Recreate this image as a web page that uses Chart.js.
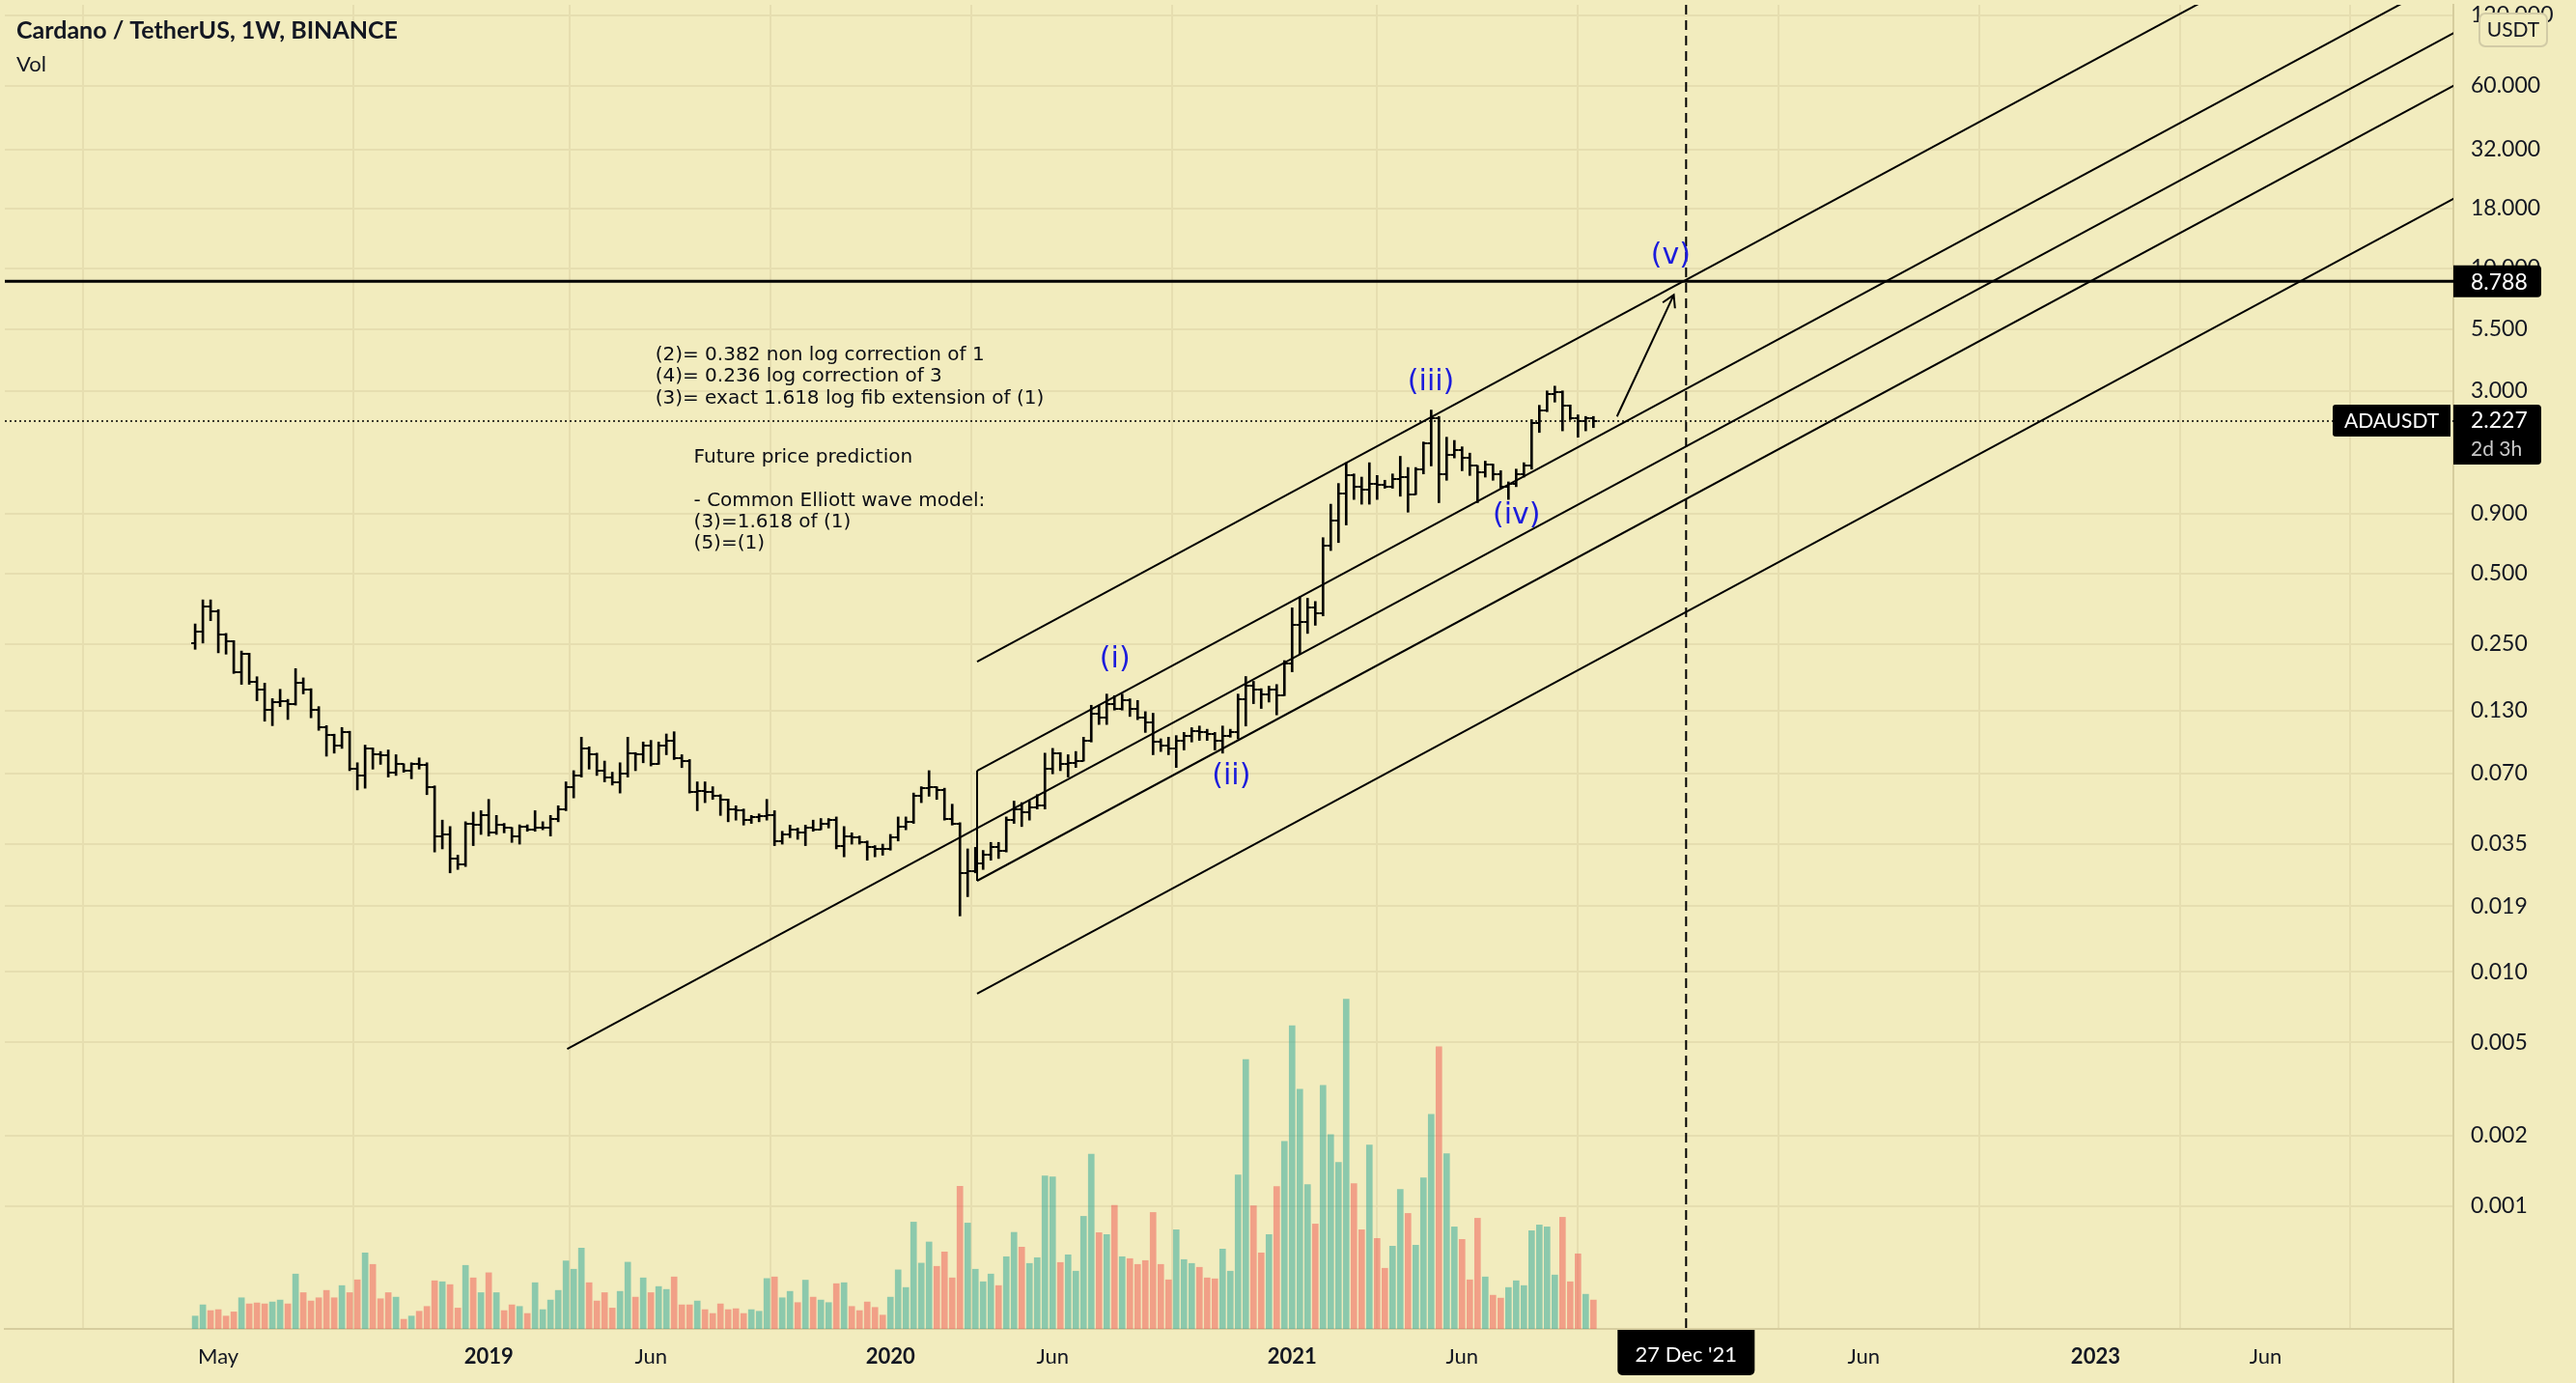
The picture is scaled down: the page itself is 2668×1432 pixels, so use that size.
<!DOCTYPE html>
<html><head><meta charset="utf-8">
<script src="https://cdn.jsdelivr.net/npm/chart.js@4.4.1/dist/chart.umd.min.js"></script>
<style>
html,body{margin:0;padding:0;background:#F2ECBE;overflow:hidden;}
#wrap{position:absolute;left:0;top:0;width:2668px;height:1432px;}
</style></head><body><div id="wrap"><canvas id="c"></canvas></div>
<script>
// ---- DATA: ADAUSDT weekly bars, week 0 = 16 Apr 2018 ----
const opens = [0.252,0.281,0.361,0.345,0.273,0.256,0.190,0.226,0.173,0.160,
0.131,0.141,0.143,0.139,0.170,0.160,0.131,0.110,0.102,0.0925,
0.105,0.0731,0.0687,0.0896,0.0842,0.0835,0.0709,0.0766,0.0720,0.0766,
0.0760,0.0615,0.0379,0.0385,0.0304,0.0286,0.0429,0.0423,0.0464,0.0391,
0.0423,0.0410,0.0379,0.0416,0.0403,0.0410,0.0412,0.0450,0.0494,0.0615,
0.0687,0.0896,0.0842,0.0720,0.0676,0.0645,0.0698,0.0855,0.0842,0.0925,
0.0766,0.0925,0.0969,0.0816,0.0790,0.0587,0.0590,0.0582,0.0560,0.0543,
0.0494,0.0490,0.0443,0.0457,0.0461,0.0464,0.0361,0.0385,0.0403,0.0391,
0.0410,0.0405,0.0429,0.0443,0.0345,0.0379,0.0375,0.0356,0.0339,0.0335,
0.0333,0.0373,0.0416,0.0436,0.0560,0.0606,0.0610,0.0596,0.0450,0.0429,
0.0264,0.0268,0.0290,0.0314,0.0339,0.0329,0.0443,0.0494,0.0479,0.0502,
0.0510,0.0731,0.0855,0.0766,0.0778,0.0791,0.0969,0.1265,0.1207,0.1390,
0.1326,0.1434,0.1326,0.1207,0.1151,0.0954,0.0925,0.0896,0.0969,0.1016,
0.1065,0.1048,0.1032,0.0969,0.1016,0.1048,0.1457,0.1651,0.1600,0.1527,
0.1600,0.1503,0.2056,0.300,0.310,0.356,0.339,0.655,0.842,1.099,
1.306,1.170,1.134,1.207,1.189,1.170,1.265,1.285,1.082,1.390,
1.785,2.295,1.326,1.600,1.677,1.551,1.434,1.347,1.457,1.326,
1.170,1.207,1.326,1.434,2.189,2.481,2.902,2.948,2.601,2.295,
2.224,2.295];
const highs = [0.304,0.385,0.385,0.350,0.277,0.258,0.233,0.228,0.181,0.170,
0.146,0.160,0.145,0.196,0.179,0.161,0.135,0.112,0.103,0.110,
0.106,0.0778,0.0925,0.0900,0.0869,0.0882,0.0842,0.0770,0.0778,0.0816,
0.0778,0.0620,0.0443,0.0416,0.0314,0.0436,0.0479,0.0486,0.0543,0.0464,
0.0429,0.0412,0.0423,0.0423,0.0486,0.0436,0.0464,0.0510,0.0645,0.0720,
0.1000,0.0910,0.0855,0.0791,0.0709,0.0778,0.1000,0.0860,0.0954,0.0969,
0.0954,0.1032,0.1055,0.0842,0.0803,0.0645,0.0645,0.0615,0.0569,0.0545,
0.0510,0.0494,0.0464,0.0471,0.0543,0.0486,0.0397,0.0422,0.0410,0.0422,
0.0443,0.0450,0.0450,0.0457,0.0416,0.0391,0.0379,0.0361,0.0345,0.0350,
0.0385,0.0457,0.0457,0.0578,0.0615,0.0720,0.0615,0.0606,0.0518,0.0432,
0.0334,0.0339,0.0329,0.0356,0.0356,0.0457,0.0534,0.0526,0.0534,0.0569,
0.0855,0.0896,0.0860,0.0842,0.0869,0.1000,0.1368,0.1368,0.1527,0.1503,
0.1527,0.1457,0.1434,0.1285,0.1265,0.0984,0.1000,0.1016,0.1048,0.1098,
0.1116,0.1081,0.1048,0.1116,0.1081,0.1527,0.1814,0.1730,0.1610,0.1651,
0.1677,0.2121,0.356,0.397,0.391,0.379,0.709,0.985,1.207,1.480,
1.326,1.285,1.480,1.306,1.246,1.326,1.576,1.412,1.412,1.814,
2.481,2.331,1.901,1.842,1.730,1.626,1.440,1.503,1.460,1.368,
1.226,1.390,1.480,2.259,2.601,2.995,3.139,2.995,2.610,2.368,
2.331,2.331];
const lows = [0.237,0.252,0.314,0.229,0.226,0.187,0.168,0.168,0.143,0.117,
0.112,0.135,0.119,0.137,0.153,0.121,0.107,0.083,0.0855,0.0896,
0.072,0.0596,0.0606,0.0731,0.0766,0.0676,0.0687,0.0709,0.0665,0.0731,
0.0569,0.0324,0.0334,0.0264,0.0273,0.0281,0.0345,0.0385,0.0379,0.0385,
0.0391,0.0356,0.0350,0.0397,0.0397,0.0403,0.0379,0.0436,0.0486,0.0551,
0.0676,0.0731,0.0687,0.0645,0.0625,0.0578,0.0676,0.0720,0.0778,0.0754,
0.0766,0.0842,0.0803,0.0742,0.0578,0.0486,0.0526,0.0543,0.0464,0.0436,
0.0443,0.0422,0.0429,0.0436,0.0443,0.0345,0.0350,0.0373,0.0367,0.0345,
0.0397,0.0403,0.0410,0.0334,0.0309,0.0350,0.0350,0.0299,0.0309,0.0314,
0.0330,0.0361,0.0403,0.0429,0.0526,0.0560,0.0543,0.0443,0.0422,0.0173,
0.0209,0.0264,0.0273,0.0299,0.0304,0.0324,0.0429,0.0416,0.0443,0.0494,
0.0494,0.0698,0.0720,0.0676,0.0743,0.0791,0.0954,0.1133,0.1133,0.1305,
0.1305,0.1226,0.1188,0.1048,0.0842,0.0869,0.0842,0.0743,0.0882,0.0954,
0.0969,0.0969,0.0882,0.0855,0.1000,0.0984,0.1116,0.1390,0.1326,0.1412,
0.1245,0.1503,0.190,0.226,0.277,0.300,0.329,0.625,0.676,0.803,
1.032,0.985,0.985,1.032,1.152,1.152,1.065,0.911,1.082,1.326,
1.434,1.000,1.246,1.551,1.368,1.306,1.000,1.285,1.246,1.152,
1.032,1.170,1.285,1.390,1.992,2.443,2.684,2.024,2.259,1.901,
2.024,2.089];
const closes = [0.281,0.361,0.345,0.273,0.256,0.190,0.226,0.173,0.160,0.131,
0.141,0.143,0.139,0.170,0.160,0.131,0.110,0.102,0.0925,0.105,
0.0731,0.0687,0.0896,0.0842,0.0835,0.0709,0.0766,0.0720,0.0766,0.0760,
0.0615,0.0379,0.0385,0.0304,0.0286,0.0429,0.0423,0.0464,0.0391,0.0423,
0.0410,0.0379,0.0416,0.0403,0.0410,0.0412,0.0450,0.0494,0.0615,0.0687,
0.0896,0.0842,0.0720,0.0676,0.0645,0.0698,0.0855,0.0842,0.0925,0.0766,
0.0925,0.0969,0.0816,0.0790,0.0587,0.0590,0.0582,0.0560,0.0543,0.0494,
0.0490,0.0443,0.0457,0.0461,0.0464,0.0361,0.0385,0.0403,0.0391,0.0410,
0.0405,0.0429,0.0443,0.0345,0.0379,0.0375,0.0356,0.0339,0.0335,0.0333,
0.0373,0.0416,0.0436,0.0560,0.0606,0.0610,0.0596,0.0450,0.0429,0.0264,
0.0268,0.0290,0.0314,0.0339,0.0329,0.0443,0.0494,0.0479,0.0502,0.0510,
0.0731,0.0855,0.0766,0.0778,0.0791,0.0969,0.1265,0.1207,0.1390,0.1326,
0.1434,0.1326,0.1207,0.1151,0.0954,0.0925,0.0896,0.0969,0.1016,0.1065,
0.1048,0.1032,0.0969,0.1016,0.1048,0.1457,0.1651,0.1600,0.1527,0.1600,
0.1503,0.2056,0.300,0.310,0.356,0.339,0.655,0.842,1.099,1.306,
1.170,1.134,1.207,1.189,1.170,1.265,1.285,1.082,1.390,1.785,
2.295,1.326,1.600,1.677,1.551,1.434,1.347,1.457,1.326,1.170,
1.207,1.326,1.434,2.189,2.481,2.902,2.948,2.601,2.295,2.224,
2.295,2.227];
// relative weekly volume
const volumes = [40,75,57,60,40,53,97,78,81,78,
84,90,78,171,113,87,97,120,97,135,
113,153,237,201,94,113,99,30,40,55,
70,150,147,138,65,198,159,113,175,113,
57,75,70,48,144,60,90,120,212,186,
252,144,87,113,65,117,208,99,159,113,
132,123,162,75,75,87,60,48,78,60,
63,48,60,55,157,162,97,117,82,152,
99,90,82,141,144,70,57,84,67,43,
99,184,129,333,205,271,195,240,159,445,
330,186,147,171,135,225,301,255,204,222,
477,474,207,231,180,351,545,300,294,385,
225,219,201,213,363,201,153,309,216,204,
192,159,156,249,180,480,840,384,237,294,
444,585,945,747,450,327,759,606,519,1028,
453,309,573,282,189,258,435,360,261,471,
669,880,546,318,279,153,345,162,105,96,
129,150,135,306,324,318,168,348,147,234,
108,90];

const priceTicks = [0.001,0.002,0.005,0.010,0.019,0.035,0.070,0.130,0.250,0.500,0.900,3.000,5.500,10.000,18.000,32.000,60.000,120.000];
const timeTickWeeks  = [3,38,59,90,111,142,164,194,216,246,268];
const timeTickLabels = ['May','2019','Jun','2020','Jun','2021','Jun','2022','Jun','2023','Jun'];

// drawings (week index, price)
const channelStarts = [[101.22,0.2101],[101.22,0.07197],[48.16,0.004684],[101.22,0.02442],[101.22,0.008054]];
const channelEnds   = [[300,704.7],[300,241.4],[300,137.2],[300,81.9],[300,27.02]];
const channelSide   = [[101.22,0.07197],[101.22,0.02442]];
const arrowShaft = [[184.05,2.329],[191.40,7.69]];
const arrowHead  = [[189.97,7.13],[191.40,7.69],[191.56,6.74]];
const resistanceLevel = 8.788;
const lastPrice = 2.227;
const markerWeek = 193;
const markerLabel = "27 Dec '21";
const waveNames  = ['(i)','(ii)','(iii)','(iv)','(v)'];
const waveWeeks  = [119.06,134.13,159.97,171.06,191.0];
const wavePrices = [0.2141,0.06769,3.237,0.8767,11.30];
const noteA = ['(2)= 0.382 non log correction of 1','(4)= 0.236 log correction of 3','(3)= exact 1.618 log fib extension of (1)'];
const noteAAt = [59.56, 4.251];
const noteB = ['Future price prediction','','- Common Elliott wave model:','(3)=1.618 of (1)','(5)=(1)'];
const noteBAt = [64.55, 1.555];

// ---- styling ----
const BG = '#F2ECBE', GRID = '#E6DEB0', SEP = '#D6CD9E', TXT = '#131722';
const UP = 'rgba(38,166,154,0.5)', DOWN = 'rgba(239,83,80,0.5)';
const X_MIN = -24.635, X_MAX = 292.32, Y_MIN = 0.0003208, Y_MAX = 132.6;

function tickImg(side){
  const c = document.createElement('canvas'); c.width = 10; c.height = 2;
  const g = c.getContext('2d'); g.fillStyle = '#000';
  g.fillRect(side === 'open' ? 1 : 5, 0, 4, 2);
  return c;
}
const pts = arr => arr.map(p => ({x:p[0], y:p[1]}));
const lineDs = (data, w) => ({type:'line', data, borderColor:'#000', borderWidth:w||2, pointRadius:0, tension:0, fill:false, order:0, yAxisID:'y'});

const datasets = [];
channelStarts.forEach((s,i) => datasets.push(lineDs(pts([s, channelEnds[i]]))));
datasets.push(lineDs(pts(channelSide)));
datasets.push(lineDs(pts(arrowShaft)));
datasets.push(lineDs(pts(arrowHead)));
datasets.push({type:'line', showLine:false, data: opens.map((v,i)=>({x:i,y:v})), pointStyle: tickImg('open'), pointRadius:3, order:1, yAxisID:'y'});
datasets.push({type:'line', showLine:false, data: closes.map((v,i)=>({x:i,y:v})), pointStyle: tickImg('close'), pointRadius:3, order:1, yAxisID:'y'});
datasets.push({type:'bar', data: lows.map((l,i)=>({x:i, y:[l, highs[i]]})), backgroundColor:'#000', barThickness:2, grouped:false, order:2, yAxisID:'y'});
datasets.push({type:'bar', data: volumes.map((v,i)=>({x:i, y:v})), backgroundColor: volumes.map((v,i)=> closes[i] >= opens[i] ? UP : DOWN), barThickness:6, grouped:false, order:5, yAxisID:'yv'});

function rrect(ctx, x, y, w, h, r){
  ctx.beginPath();
  const [tl,tr,br,bl] = r;
  ctx.moveTo(x+tl, y); ctx.lineTo(x+w-tr, y); ctx.arcTo(x+w, y, x+w, y+tr, tr);
  ctx.lineTo(x+w, y+h-br); ctx.arcTo(x+w, y+h, x+w-br, y+h, br);
  ctx.lineTo(x+bl, y+h); ctx.arcTo(x, y+h, x, y+h-bl, bl);
  ctx.lineTo(x, y+tl); ctx.arcTo(x, y, x+tl, y, tl); ctx.closePath();
}

const overlay = {
  id:'overlay',
  afterDatasetsDraw(chart){
    const {ctx, chartArea:a, scales:{x,y}} = chart;
    ctx.save();
    ctx.beginPath(); ctx.rect(a.left, a.top, a.right-a.left, a.bottom-a.top); ctx.clip();
    ctx.strokeStyle = '#000';
    const xm = x.getPixelForValue(markerWeek);
    ctx.lineWidth = 2; ctx.setLineDash([10,6]);
    ctx.beginPath(); ctx.moveTo(xm, a.top); ctx.lineTo(xm, a.bottom); ctx.stroke();
    const yl = y.getPixelForValue(lastPrice);
    ctx.lineWidth = 1.5; ctx.setLineDash([2,3]);
    ctx.beginPath(); ctx.moveTo(a.left, yl); ctx.lineTo(a.right, yl); ctx.stroke();
    ctx.setLineDash([]); ctx.lineWidth = 3;
    const yr = y.getPixelForValue(resistanceLevel);
    ctx.beginPath(); ctx.moveTo(a.left, yr); ctx.lineTo(a.right, yr); ctx.stroke();
    ctx.fillStyle = '#0b0d14'; ctx.font = '20px "DejaVu Sans"'; ctx.textAlign = 'left'; ctx.textBaseline = 'middle';
    [[noteA, noteAAt],[noteB, noteBAt]].forEach(([lines, at]) => {
      const px = x.getPixelForValue(at[0]), py = y.getPixelForValue(at[1]);
      lines.forEach((t,i) => ctx.fillText(t, px, py + i*22.3));
    });
    ctx.font = '30px "DejaVu Sans"'; ctx.textAlign = 'center'; ctx.fillStyle = '#1c1cdc';
    waveNames.forEach((t,i) => ctx.fillText(t, x.getPixelForValue(waveWeeks[i]), y.getPixelForValue(wavePrices[i])));
    ctx.restore();
  },
  afterDraw(chart){
    const {ctx, chartArea:a, scales:{x,y}} = chart;
    ctx.save();
    ctx.textBaseline = 'middle';
    ctx.fillStyle = SEP; ctx.fillRect(a.right-1, a.bottom, 2, chart.height - a.bottom);
    const yr = y.getPixelForValue(resistanceLevel);
    ctx.fillStyle = '#000'; rrect(ctx, a.right, yr-16.5, 91, 33, [0,4,4,0]); ctx.fill();
    ctx.fillStyle = '#fff'; ctx.font = '23px Lato'; ctx.textAlign = 'left';
    ctx.fillText(resistanceLevel.toFixed(3), a.right+18, yr+1);
    const yl = y.getPixelForValue(lastPrice);
    ctx.fillStyle = '#000'; rrect(ctx, a.right, yl-17, 91, 62, [0,4,4,0]); ctx.fill();
    ctx.fillStyle = '#fff'; ctx.fillText(lastPrice.toFixed(3), a.right+18, yl);
    ctx.fillStyle = '#c9c9c9'; ctx.font = '21px Lato'; ctx.fillText('2d 3h', a.right+18, yl+29);
    ctx.fillStyle = '#000'; rrect(ctx, a.right-125, yl-17, 122, 33, [3,0,0,3]); ctx.fill();
    ctx.fillStyle = '#fff'; ctx.font = '21px Lato'; ctx.textAlign = 'center'; ctx.fillText('ADAUSDT', a.right-64, yl);
    ctx.fillStyle = BG; rrect(ctx, 2568, 14, 70, 34, [6,6,6,6]); ctx.fill();
    ctx.strokeStyle = '#D2CBA6'; ctx.lineWidth = 2; ctx.stroke();
    ctx.fillStyle = TXT; ctx.font = '21px Lato'; ctx.fillText('USDT', 2603, 31.5);
    const xm = x.getPixelForValue(markerWeek);
    ctx.fillStyle = '#000'; rrect(ctx, xm-71, a.bottom+1, 142, 47, [0,0,5,5]); ctx.fill();
    ctx.fillStyle = '#fff'; ctx.font = '22px Lato'; ctx.fillText(markerLabel, xm, a.bottom+27);
    ctx.textAlign = 'left'; ctx.fillStyle = TXT;
    ctx.font = 'bold 25px Lato'; ctx.fillText('Cardano / TetherUS, 1W, BINANCE', 17, 32);
    ctx.font = '22px Lato'; ctx.fillText('Vol', 17, 67);
    ctx.restore();
  }
};

new Chart(document.getElementById('c'), {
  type:'bar',
  data:{datasets},
  options:{
    responsive:true, maintainAspectRatio:false, animation:false, devicePixelRatio:1, events:[],
    layout:{padding:0},
    plugins:{legend:{display:false}, tooltip:{enabled:false}},
    scales:{
      x:{type:'linear', position:'bottom', min:X_MIN, max:X_MAX, offset:false,
        afterBuildTicks: s => { s.ticks = timeTickWeeks.map(v => ({value:v})); },
        afterFit: s => { s.height = 56; s.paddingLeft = 0; s.paddingRight = 0; },
        grid:{color:GRID, lineWidth:2, drawTicks:false},
        border:{display:true, color:SEP, width:2},
        ticks:{autoSkip:false, maxRotation:0, minRotation:0, padding:16, color:TXT,
          callback:(v,i) => timeTickLabels[i],
          font:(c) => ({family:'Lato', size:22, weight: (c.tick && /^\d{4}$/.test(c.tick.label)) ? 'bold' : 'normal'})}
      },
      y:{type:'logarithmic', position:'right', min:Y_MIN, max:Y_MAX,
        afterBuildTicks: s => { s.ticks = priceTicks.map(v => ({value:v})); },
        afterFit: s => { s.width = 127; s.paddingTop = 0; s.paddingBottom = 0; },
        grid:{color:GRID, lineWidth:2, drawTicks:false},
        border:{display:true, color:SEP, width:2},
        ticks:{autoSkip:false, padding:18, color:TXT, font:{family:'Lato', size:23},
          callback:(v) => Number(v).toFixed(3)}
      },
      yv:{type:'linear', display:false, min:0, max:4128}
    }
  },
  plugins:[overlay]
});
</script></body></html>
